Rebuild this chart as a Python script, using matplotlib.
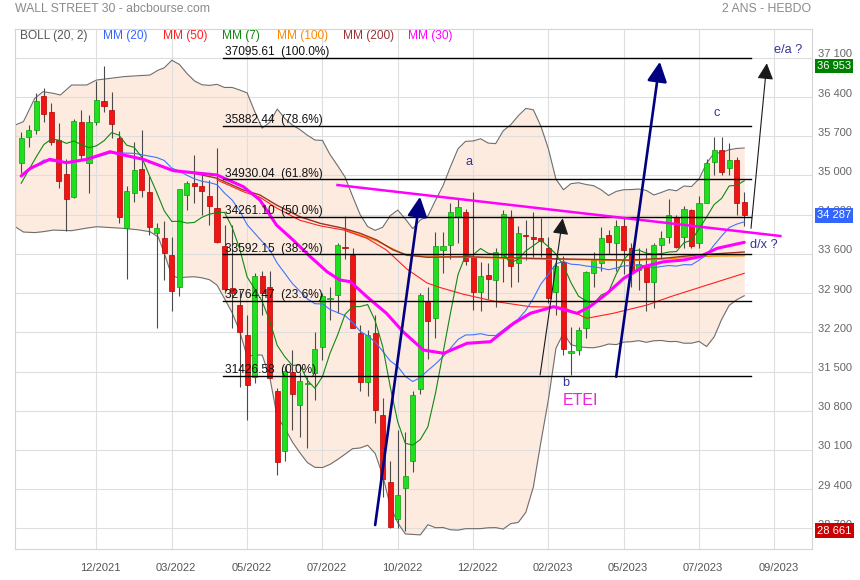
import matplotlib
matplotlib.use("Agg")
import matplotlib.pyplot as plt
import matplotlib.transforms as mtransforms
import numpy as np
import pandas as pd

plt.rcParams['font.family'] = ['Liberation Sans', 'DejaVu Sans']

# ---------------- data (weekly candles, week index 0 = 18 Oct 2021) ----------------
tick_labels = ["12/2021", "03/2022", "05/2022", "07/2022", "10/2022",
               "12/2022", "02/2023", "05/2023", "07/2023", "09/2023"]
tick_weeks = [10, 20, 30, 40, 50, 60, 70, 80, 90, 100]

opens = [35230, 35680, 35820, 36420, 36140, 35630, 35020, 34620, 35950, 35220,
         35950, 36320, 36170, 35660, 34070, 34680, 35115, 34710, 33965, 33877,
         33580, 33000, 34650, 34860, 34811, 34632, 34424, 33740, 32984, 32687,
         32152, 31396, 33200, 33000, 31152, 30081, 31497, 30902, 31277, 31480,
         31943, 32800, 32865, 33710, 33579, 32193, 31319, 32182, 30724, 29534,
         28861, 29415, 29900, 31182, 32759, 32449, 33669, 33758, 34264, 34353,
         33550, 32925, 33222, 33133, 33520, 34234, 33430, 33940, 33900, 33877,
         33698, 32925, 33461, 31824, 31884, 32271, 33252, 33431, 33937, 33800,
         34100, 33710, 33312, 33401, 33104, 33758, 33907, 34264, 33907, 34383,
         33788, 34500, 35245, 35453, 35127, 35275, 34531]
highs = [35780, 35900, 36480, 36565, 36300, 35930, 35290, 36000, 36170, 36080,
         36680, 36953, 36490, 35800, 34810, 35600, 35820, 34990, 34150, 34180,
         33900, 34760, 34900, 35372, 35050, 34918, 35492, 34115, 34117, 32950,
         32500, 33250, 33300, 33300, 31200, 31600, 31884, 31497, 31400, 32211,
         32900, 33000, 33800, 34281, 33700, 32330, 32240, 32500, 31021, 29900,
         30456, 30426, 31150, 32900, 33000, 33987, 33996, 34500, 34595, 34400,
         34712, 33450, 33440, 33700, 34376, 34376, 34100, 34204, 34353, 34234,
         33900, 33450, 33570, 32300, 32300, 33300, 33640, 34085, 34026, 34200,
         34257, 33800, 33700, 33700, 33800, 34000, 34588, 34300, 34450, 34400,
         34631, 35300, 35679, 35680, 35572, 35335, 34700]
lows = [35040, 35500, 35740, 35950, 35550, 34770, 34000, 34600, 35300, 34680,
        35900, 36140, 35660, 34160, 33150, 34530, 34620, 33940, 32272, 33130,
        32580, 32850, 34380, 34500, 34300, 34115, 33790, 32900, 32272, 31230,
        30635, 31300, 32510, 31380, 29653, 29900, 30456, 30330, 30143, 30992,
        31706, 32420, 32550, 33500, 32270, 31160, 31060, 30575, 29266, 28715,
        28700, 28661, 29700, 31100, 31730, 32100, 33252, 33500, 33800, 33400,
        32600, 32573, 32800, 32660, 33100, 33000, 33100, 33490, 33550, 33550,
        32730, 32500, 31795, 31430, 31800, 32100, 33000, 33300, 33600, 33300,
        33235, 33000, 32955, 32586, 32638, 33500, 33800, 33700, 33700, 33700,
        33700, 34500, 35000, 35000, 35007, 34300, 34100]
closes = [35677, 35820, 36328, 36100, 35602, 34899, 34580, 35971, 35365, 35950,
          36338, 36231, 35912, 34265, 34725, 35089, 34738, 34079, 34059, 33615,
          32944, 34754, 34861, 34818, 34721, 34451, 33811, 32977, 32899, 32197,
          31262, 33213, 32900, 31393, 29889, 31501, 31097, 31338, 31289, 31899,
          32845, 32803, 33761, 33707, 32283, 31318, 32151, 30822, 29590, 28725,
          29297, 29634, 31082, 32861, 32403, 33748, 33746, 34347, 34430, 33477,
          32920, 33204, 33147, 33631, 34303, 33375, 33978, 33926, 33869, 33827,
          32817, 33391, 31910, 31862, 32238, 33274, 33485, 33886, 33809, 34098,
          33674, 33300, 33427, 33093, 33762, 33877, 34299, 33727, 34408, 33734,
          34509, 35228, 35459, 35066, 35281, 34500, 34287]

# indicator values read off the picture where the rolling window is not yet full
mm7_start = [34860, 35097, 35330, 35550, 35650, 35630]            # weeks 0..5
mm20_start_w = [0, 3, 6, 9, 12, 15, 18]
mm20_start = [34990, 35275, 35225, 35290, 35405, 35395, 35320]
bb_start_w = [-0.8, 0.3, 1.8, 2.9, 4.3, 5.2, 6.7, 8.7, 10.0, 11.8, 13.6, 15.5, 17.1, 18.2]
bb_upper_start = [35900, 35960, 36376, 36495, 36465, 36435, 36614, 36614, 36703,
                  36733, 36763, 36780, 36792, 36880]
bb_lower_start = [34085, 33990, 33980, 33996, 34025, 34020, 34014, 34060, 34085,
                  34070, 34055, 34030, 33996, 33900]

# moving averages (week, value)
mm30_w = [0, 1.2, 3.8, 6.0, 8.7, 11.8, 13.6, 16.2, 20.2, 22.9, 26.0, 29.5, 31.7,
          33.9, 36.1, 38.4, 40.6, 42.3, 43.7, 45.9, 48.5, 50.7, 53.4, 56.1, 59.2,
          62.3, 65.4, 67.6, 70.7, 73.8, 75.5, 77.8, 80.0, 82.6, 85.3, 87.9, 90.1,
          92.4, 96.0]
mm30_v = [34990, 35127, 35288, 35227, 35288, 35424, 35365, 35288, 35085, 35049,
          35008, 34799, 34561, 34115, 33847, 33549, 33282, 33134, 33104, 32835,
          32539, 32211, 31884, 31825, 32004, 32032, 32361, 32539, 32657, 32539,
          32657, 32896, 33164, 33371, 33460, 33490, 33549, 33699, 33806]
mm200_w = [20.2, 22.9, 26.0, 29.5, 31.7, 33.9, 37.0, 39.7, 42.8, 45.0, 47.2, 49.4,
           51.2, 53.9, 59.2, 67.6, 74.0, 80.8, 85.3, 89.7, 96.0]
mm200_v = [35085, 35040, 34950, 34740, 34651, 34472, 34263, 34145, 34056, 33967,
           33848, 33669, 33580, 33539, 33549, 33521, 33505, 33490, 33521, 33580, 33633]
mm100_w = [42.8, 47.2, 51.2, 59.2, 67.6, 74.0, 80.8, 85.3, 88.4, 92.0, 96.0]
mm100_v = [34040, 33830, 33570, 33540, 33510, 33495, 33480, 33505, 33540, 33560, 33565]
mm50_w = [26.0, 29.5, 31.7, 33.9, 37.0, 39.7, 42.8, 45.9, 48.5, 51.2, 53.9, 55.6,
          58.7, 63.1, 67.6, 72.0, 75.1, 78.6, 83.1, 86.2, 89.7, 93.2, 96.0]
mm50_v = [34920, 34710, 34610, 34420, 34200, 34100, 34026, 33878, 33669, 33330,
          33080, 33000, 32880, 32746, 32657, 32646, 32450, 32539, 32687, 32835,
          32985, 33134, 33253]

# Fibonacci retracement levels
fib_levels = [37095.61, 35882.44, 34930.04, 34261.10, 33592.15, 32764.47, 31426.58]
fib_pcts = ["100.0%", "78.6%", "61.8%", "50.0%", "38.2%", "23.6%", "0.0%"]
fib_span = (26.8, 96.9)

# hand-drawn annotations (week, value)
trend_line = [(42.0, 34829), (100.8, 33919)]
navy_arrows = [((47.0, 28760), (52.96, 34620)), ((79.0, 31407), (84.8, 37030))]
black_arrows = [((68.9, 31438), (71.9, 34235)), ((96.9, 34056), (99.0, 37002))]
wave_labels = [("a", 59.4, 35245), ("b", 72.35, 31300), ("c", 92.4, 36109),
               ("e/a ?", 101.8, 37239), ("d/x ?", 98.6, 33758)]
etei_label = ("ETEI", 74.2, 30991)

legend_items = [("BOLL (20, 2)", "#555555"), ("MM (20)", "#3366ff"), ("MM (50)", "#ff2020"),
                ("MM (7)", "#118811"), ("MM (100)", "#ff8800"), ("MM (200)", "#993333"),
                ("MM (30)", "#ff00ff")]
legend_px = [20, 103, 163, 222, 277, 343, 408]

y_ticks = list(range(28700, 37101, 700))

# ---------------- derived indicators ----------------
o = np.array(opens, float); h = np.array(highs, float)
l = np.array(lows, float); c = np.array(closes, float)
n = len(c)
idx = np.arange(n)
cs = pd.Series(c)
m7 = cs.rolling(7).mean().values
m20 = cs.rolling(20).mean().values
sd20 = cs.rolling(20).std(ddof=0).values

mm7_w = list(range(6)) + list(range(6, n))
mm7_v = mm7_start + list(m7[6:])
mm20_w = mm20_start_w + list(range(19, n))
mm20_v = mm20_start + list(m20[19:])
bb_w = bb_start_w + list(range(19, n))
bb_up = bb_upper_start + list(m20[19:] + 2 * sd20[19:])
bb_lo = bb_lower_start + list(m20[19:] - 2 * sd20[19:])

# ---------------- figure ----------------
W, H = 860, 580
fig = plt.figure(figsize=(W / 100, H / 100), dpi=100)
fig.patch.set_facecolor("white")
L, R, T, B = 15, 812, 29, 549
ax = fig.add_axes([L / W, (H - B) / H, (R - L) / W, (B - T) / H])
ax.set_xlim(-0.82, 105.0)
ax.set_ylim(28332, 37614)
ax.set_xticks([]); ax.set_yticks([])
for s in ax.spines.values():
    s.set_color("#d4d4d4"); s.set_linewidth(0.8)

# grid
for v in y_ticks:
    ax.axhline(v, color="#dedede", lw=0.8, zorder=1)
for w in tick_weeks:
    ax.axvline(w, color="#dedede", lw=0.8, zorder=1)

# Bollinger band
ax.fill_between(bb_w, bb_lo, bb_up, color="#fdebe0", lw=0, zorder=0.5)
ax.plot(bb_w, bb_up, color="#6e6e6e", lw=0.8, zorder=2)
ax.plot(bb_w, bb_lo, color="#6e6e6e", lw=0.8, zorder=2)
ax.plot([bb_w[0], bb_w[0]], [bb_lo[0], bb_up[0]], color="#6e6e6e", lw=0.8, zorder=2)

# candles
up = c >= o
ax.vlines(idx, l, h, color="#4a4a4a", lw=0.8, zorder=4)
body_lo = np.minimum(o, c)
body_h = np.maximum(np.abs(c - o), 18)
ax.bar(idx, body_h, bottom=body_lo, width=0.68,
       color=np.where(up, "#1fe01f", "#f01515"),
       edgecolor=np.where(up, "#0c9c0c", "#b30000"), linewidth=0.5, zorder=5)

# moving averages
ax.plot(mm100_w, mm100_v, color="#ff8800", lw=0.9, zorder=6)
ax.plot(mm200_w, mm200_v, color="#993322", lw=1.0, zorder=6)
ax.plot(mm50_w, mm50_v, color="#ff2020", lw=0.8, zorder=6)
ax.plot(mm20_w, mm20_v, color="#3f74ff", lw=0.8, zorder=6)
ax.plot(mm7_w, mm7_v, color="#118811", lw=0.8, zorder=6)
ax.plot(mm30_w, mm30_v, color="#ff00ff", lw=2.2, zorder=6.5, solid_capstyle="round")

# Fibonacci levels
for lv, pct in zip(fib_levels, fib_pcts):
    ax.plot(fib_span, [lv, lv], color="black", lw=1.0, zorder=7)
    ax.annotate(f"{lv:.2f}  ({pct})", xy=(fib_span[0] + 0.2, lv), xytext=(0, 2.0),
                textcoords="offset points", ha="left", va="baseline",
                fontsize=8.6, color="#111111", zorder=7)

# trend line and arrows
ax.plot([p[0] for p in trend_line], [p[1] for p in trend_line],
        color="#ff00ff", lw=1.8, zorder=8)
for (x0, y0), (x1, y1) in navy_arrows:
    ax.annotate("", xy=(x1, y1), xytext=(x0, y0),
                arrowprops=dict(arrowstyle="-|>,head_length=1.0,head_width=0.5",
                                color="#000080", lw=1.9, shrinkA=0, shrinkB=0,
                                mutation_scale=12), zorder=8)
for (x0, y0), (x1, y1) in black_arrows:
    ax.annotate("", xy=(x1, y1), xytext=(x0, y0),
                arrowprops=dict(arrowstyle="-|>,head_length=0.9,head_width=0.45",
                                color="#1a1a1a", lw=0.8, shrinkA=0, shrinkB=0,
                                mutation_scale=11), zorder=8)

for txt, xw, yv in wave_labels:
    ax.text(xw, yv, txt, ha="center", va="center", fontsize=9.2, color="#333399",
            zorder=9, clip_on=False)
ax.text(etei_label[1], etei_label[2], etei_label[0], ha="center", va="center",
        fontsize=11.5, color="#ee22dd", zorder=9)

# legend row
for (txt, col), px in zip(legend_items, legend_px):
    ax.text((px - L) / (R - L), (B - 36.5) / (B - T), txt, transform=ax.transAxes,
            ha="left", va="center", fontsize=8.6, color=col, zorder=9)

# right axis labels (sit a few pixels above their grid line, as in the reference)
tr = mtransforms.blended_transform_factory(ax.transAxes, ax.transData)
tr_up = mtransforms.offset_copy(tr, fig=fig, y=3.5, units="dots")
for v in y_ticks:
    ax.text(1 + 6 / (R - L), v, f"{v:,}".replace(",", " "), transform=tr_up,
            ha="left", va="center", fontsize=8.0, color="#666666", clip_on=False)

boxes = [(max(highs), "#008000"), (closes[-1], "#3366ff"), (min(lows), "#cc0000")]
for v, col in boxes:
    ax.text(1 + 5 / (R - L), v, f"{int(v):,}".replace(",", " "), transform=tr,
            ha="left", va="center", fontsize=8.0, color="white", clip_on=False,
            bbox=dict(boxstyle="square,pad=0.2", fc=col, ec="none"), zorder=10)

# bottom date labels
trx = mtransforms.blended_transform_factory(ax.transData, ax.transAxes)
for w, lab in zip(tick_weeks, tick_labels):
    ax.text(w + 0.55, (B - 568) / (B - T), lab, transform=trx, ha="center",
            va="center", fontsize=8.0, color="#555555", clip_on=False)

# titles
fig.text(15 / W, 1 - 8.5 / H, "WALL STREET 30 - abcbourse.com", ha="left", va="center",
         fontsize=8.8, color="#8a8a8a")
fig.text(811 / W, 1 - 8.5 / H, "2 ANS - HEBDO", ha="right", va="center",
         fontsize=8.8, color="#8a8a8a")

fig.savefig("out.png", dpi=100, facecolor="white")
